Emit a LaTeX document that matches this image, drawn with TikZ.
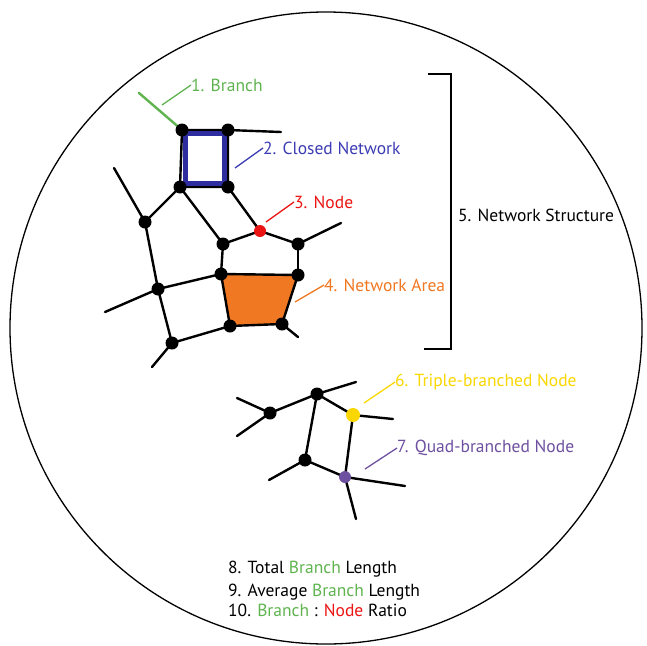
\documentclass[tikz,border=0pt]{standalone}
\usepackage{fontspec}
\setmainfont{PT Sans}
\usetikzlibrary{calc}
\definecolor{brgreen}{RGB}{95,180,80}
\definecolor{netblue}{RGB}{45,45,160}
\definecolor{txtblue}{RGB}{60,60,180}
\definecolor{nodered}{RGB}{235,20,20}
\definecolor{areaorange}{RGB}{240,120,35}
\definecolor{triyellow}{RGB}{250,215,0}
\definecolor{quadpurple}{RGB}{110,80,160}
\begin{document}
\begin{tikzpicture}[x=1pt,y=-1pt,
  dot/.style={circle,fill=black,inner sep=0pt,minimum size=13pt},
  cdot/.style={circle,fill=#1,inner sep=0pt,minimum size=13pt},
  edge/.style={line width=2.4pt,line cap=round},
  lead/.style={line width=1.3pt},
  lbl/.style={anchor=west,inner sep=0pt,font=\fontsize{17.5}{20}\selectfont}]
\useasboundingbox (0,0) rectangle (647,645);
\node[draw,circle,line width=1.3pt,minimum size=632pt,inner sep=0pt] (circ) at (326,328) {};

% upper network node positions
\coordinate (A) at (182,130);
\coordinate (B) at (228,130);
\coordinate (C) at (180,187);
\coordinate (D) at (228,187);
\coordinate (E) at (145,222);
\coordinate (F) at (223,244);
\coordinate (R) at (260,231);
\coordinate (G) at (298,244);
\coordinate (H) at (298,275);
\coordinate (I) at (221,274);
\coordinate (J) at (282,324);
\coordinate (K) at (230,326);
\coordinate (L) at (172,343);
\coordinate (M) at (158,289);
% free ends
\coordinate (brEnd) at (139,93);
\coordinate (bEnd) at (281,132);
\coordinate (eEnd) at (114,168);
\coordinate (gEnd) at (341,223);
\coordinate (jEnd) at (298,337);
\coordinate (lEnd) at (152,367);
\coordinate (mEnd) at (105,312);

% orange area
\fill[areaorange] (I) -- (H) -- (J) -- (K) -- cycle;

% edges
\draw[edge] (A) -- (B) -- (D) -- (C) -- (A);
\draw[netblue,line width=4.5pt] ($(A)+(3.5,3.5)$) rectangle ($(D)+(-3.5,-3.5)$);
\draw[edge,brgreen] (A) -- (brEnd);
\draw[edge] (B) -- (bEnd);
\draw[edge] (E) -- (eEnd);
\draw[edge] (E) -- (C);
\draw[edge] (C) -- (F);
\draw[edge] (D) -- (R);
\draw[edge] (F) -- (R) -- (G);
\draw[edge] (G) -- (gEnd);
\draw[edge] (G) -- (H);
\draw[edge] (F) -- (I);
\draw[edge,line cap=butt] (I) -- (H) -- (J) -- (K) -- cycle;
\draw[edge] (J) -- (jEnd);
\draw[edge] (K) -- (L) -- (lEnd);
\draw[edge] (L) -- (M) -- (E);
\draw[edge] (M) -- (I);
\draw[edge] (M) -- (mEnd);

% dots
\foreach \n in {A,B,C,D,E,F,G,H,I,J,K,L,M}
  \node[dot] (d\n) at (\n) {};
\node[cdot=nodered,minimum size=12pt] (dR) at (R) {};

% lower network
\coordinate (N1) at (270,413);
\coordinate (N2) at (317,394);
\coordinate (Y) at (353,415);
\coordinate (N3) at (305,460);
\coordinate (P) at (345,477);
\coordinate (n1a) at (237,398);
\coordinate (n1b) at (237,436);
\coordinate (n2e) at (356,382);
\coordinate (ye) at (393,419);
\coordinate (n3e) at (269,480);
\coordinate (pe1) at (405,486);
\coordinate (pe2) at (356,519);
\draw[edge] (n1a) -- (N1) -- (n1b);
\draw[edge] (N1) -- (N2) -- (n2e);
\draw[edge] (N2) -- (Y) -- (ye);
\draw[edge] (N2) -- (N3) -- (n3e);
\draw[edge] (N3) -- (P) -- (Y);
\draw[edge] (pe1) -- (P) -- (pe2);
\node[dot] (dN1) at (N1) {};
\node[dot] (dN2) at (N2) {};
\node[dot] (dN3) at (N3) {};
\node[cdot=triyellow,minimum size=14pt] (dY) at (Y) {};
\node[cdot=quadpurple,minimum size=12pt] (dP) at (P) {};

% labels and leader lines
\node[lbl,text=brgreen] (t1) at (191,85) {1. Branch};
\coordinate (l1a) at (162,105);
\draw[lead,brgreen] (l1a) -- (t1.west);
\node[lbl,text=txtblue] (t2) at (263,148) {2. Closed Network};
\coordinate (l2a) at (235,168);
\draw[lead,txtblue] (l2a) -- (t2.west);
\node[lbl,text=nodered] (t3) at (294,202) {3. Node};
\coordinate (l3a) at (266,222);
\draw[lead,nodered] (l3a) -- (t3.west);
\node[lbl,text=areaorange] (t4) at (324,285) {4. Network Area};
\coordinate (l4a) at (295,302);
\draw[lead,areaorange] (l4a) -- (t4.west);

% bracket
\coordinate (bk1) at (428,74);
\coordinate (bk2) at (451,74);
\coordinate (bk3) at (451,349);
\coordinate (bk4) at (424,349);
\draw[line width=1.6pt] (bk1) -- (bk2) -- (bk3) -- (bk4);
\node[lbl] (t5) at (458,215) {5. Network Structure};

\node[lbl,text=triyellow] (t6) at (395,382) {6. Triple-branched Node};
\coordinate (l6a) at (364,403);
\draw[lead,triyellow] (l6a) -- (t6.west);
\node[lbl,text=quadpurple] (t7) at (397,448) {7. Quad-branched Node};
\coordinate (l7a) at (365,469);
\draw[lead,quadpurple] (l7a) -- (t7.west);

\node[lbl] (t8) at (228,569) {8. Total \textcolor{brgreen}{Branch} Length};
\node[lbl] (t9) at (228,592) {9. Average \textcolor{brgreen}{Branch} Length};
\node[lbl] (t10) at (228,610) {10. \textcolor{brgreen}{Branch} : \textcolor{nodered}{Node} Ratio};
\end{tikzpicture}
\end{document}
